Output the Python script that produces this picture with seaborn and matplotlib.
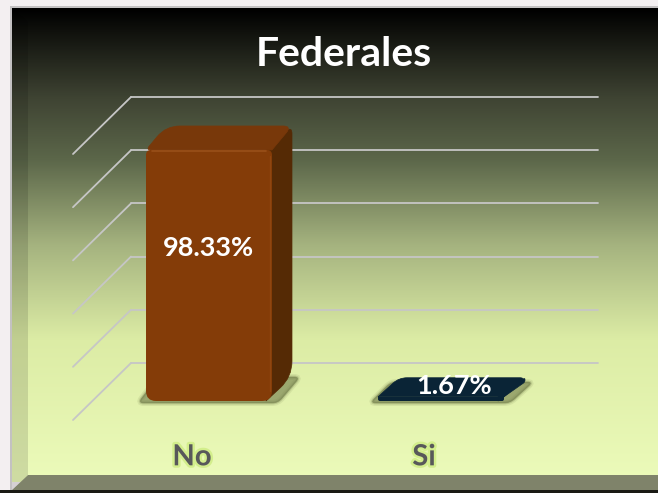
import matplotlib
matplotlib.use("Agg")
import matplotlib.pyplot as plt
import matplotlib.patheffects as pe
from matplotlib.colors import LinearSegmentedColormap
from matplotlib.patches import PathPatch, Polygon
from matplotlib.path import Path
from matplotlib.transforms import ScaledTranslation
import numpy as np
import seaborn as sns

# datos
categorias = ["No", "Si"]
valores = [98.33, 1.67]
titulo = "Federales"
marcas_y = [0, 20, 40, 60, 80, 100]

# colores por barra
frente = ["#843c08", "#0a2436"]
lado = ["#552a05", "#0a2436"]
tapa = ["#78380a", "#0a2436"]
brillo = ["#99501a", "#0a2436"]

# volumen de cada barra en pixeles
fondo_x = [20, 21]
fondo_y = [24, 19]
radios_lado = [[0, 0, 8, 22], [0, 0, 4, 8]]
radios_tapa = [[5, 0, 9, 14], [0, 0, 5, 8]]
radios_frente = [[10, 10, 5, 5], [4, 4, 0, 0]]

W, H = 658, 493
PX = 72 / 100  # puntos por pixel
PX_X = 1 / 232
PX_Y = 1 / 2.553


def caja(x0, y_sup, x1, y_inf):
    # rectangulo en pixeles (origen arriba) -> fracciones de figura
    return [x0 / W, 1 - y_inf / H, (x1 - x0) / W, (y_inf - y_sup) / H]


def redondeado(puntos, radios):
    # poligono con esquinas curvas, los radios van en pixeles
    p = np.array(puntos, dtype=float) / [PX_X, PX_Y]
    n = len(p)
    verts, codes = [], []
    for k in range(n):
        a, b, c = p[k - 1], p[k], p[(k + 1) % n]
        la, lc = np.linalg.norm(a - b), np.linalg.norm(c - b)
        r = min(radios[k], la * 0.45, lc * 0.45)
        ini = b + (a - b) / la * r
        fin = b + (c - b) / lc * r
        verts += [ini, b, fin]
        codes += [Path.MOVETO if k == 0 else Path.LINETO, Path.CURVE3, Path.CURVE3]
    verts.append(verts[0])
    codes.append(Path.CLOSEPOLY)
    return Path(np.array(verts) * [PX_X, PX_Y], codes)


sns.set_theme(style="white")
plt.rcParams["font.family"] = ["Lato", "DejaVu Sans"]

fig = plt.figure(figsize=(W / 100, H / 100), dpi=100, facecolor="#f3eff1")

# =========================
# fondo
# =========================
fondo = fig.add_axes([0, 0, 1, 1])
fondo.axis("off")

cmap = LinearSegmentedColormap.from_list("panel", [
    (0.0, "#000000"), (0.19, "#3f4433"), (0.32, "#5c674a"),
    (0.50, "#a5b37f"), (0.70, "#dceca5"), (1.0, "#ecfbba"),
])
grad = np.linspace(0, 1, 256).reshape(-1, 1)
fondo.imshow(grad, cmap=cmap, extent=(12, W, 482, 8), aspect="auto")
fondo.set_xlim(0, W)
fondo.set_ylim(H, 0)
fondo.add_patch(Polygon([(10, 6), (W, 6), (W, 8), (12, 8), (12, 490), (10, 490)], fc="#8a8a8a", lw=0, alpha=0.45))
fondo.add_patch(Polygon([(12, 8), (28, 22), (28, 475), (12, 490)], fc="black", alpha=0.12, lw=0))
fondo.add_patch(Polygon([(12, 490), (28, 475), (W, 475), (W, 490)], fc="#7f836a", lw=0))
fondo.add_patch(Polygon([(0, 490), (W, 490), (W, H), (0, H)], fc="#1a1a14", lw=0))

# =========================
# pared con las lineas
# =========================
pared = fig.add_axes(caja(131, 97, 598, 363), facecolor="none")
pared.set_ylim(0, 100)
pared.set_xlim(0, 1)
pared.set_xticks([])
pared.set_yticks(marcas_y)
pared.tick_params(left=False, labelleft=False)
pared.grid(axis="y", color="#c6c6c6", lw=1.3, clip_on=False)
sns.despine(ax=pared, left=True, bottom=True)
paso_x = -58 / 467
paso_y = -57 / 2.66
for m in marcas_y:
    pared.plot([0, paso_x], [m, m + paso_y], color="#c6c6c6", lw=1.3, clip_on=False)

# =========================
# barras
# =========================
ax = fig.add_axes(caja(93, 401 - 255.3, 557, 401), facecolor="none")
sns.barplot(x=categorias, y=valores, hue=categorias, palette=frente, width=0.543,
            saturation=1, legend=False, ax=ax, zorder=4)
ax.set_xlim(-0.5, 1.5)
ax.set_ylim(0, 100)
ax.set_yticks([])
ax.set_xlabel("")
ax.set_ylabel("")
sns.despine(ax=ax, left=True, bottom=True)

for i, rect in enumerate(ax.patches):
    x0, x1 = rect.get_x(), rect.get_x() + rect.get_width()
    alto = rect.get_height()
    dx = fondo_x[i] * PX_X
    dy = fondo_y[i] * PX_Y

    # sombra sobre el piso
    sombra = redondeado([(x0 - 8 * PX_X, -2 * PX_Y), (x1 + 6 * PX_X, -2 * PX_Y),
                         (x1 + dx + 8 * PX_X, dy), (x0 + dx - 8 * PX_X, dy)],
                        [6, 6, 6, 6])
    for grosor, a in [(6, 0.12), (3, 0.25), (1, 0.4)]:
        ax.add_patch(PathPatch(sombra, fc="#6f7a48", ec="#6f7a48", alpha=a, lw=grosor * PX,
                               clip_on=False, zorder=1))

    ax.add_patch(PathPatch(
        redondeado([(x1 - 6 * PX_X, 0), (x1 - 6 * PX_X, alto), (x1 + dx, alto + dy), (x1 + dx, dy)],
                   radios_lado[i]),
        fc=lado[i], ec=lado[i], lw=0.5, clip_on=False, zorder=2))
    ax.add_patch(PathPatch(
        redondeado([(x0, alto), (x1, alto), (x1 + dx, alto + dy), (x0 + dx, alto + dy)],
                   radios_tapa[i]),
        fc=tapa[i], ec=tapa[i], lw=0.5, clip_on=False, zorder=3))

    # la barra de seaborn queda recortada con las esquinas curvas
    molde = PathPatch(
        redondeado([(x0, 0), (x1, 0), (x1, alto), (x0, alto)], radios_frente[i]),
        fc="none", ec="none", transform=ax.transData)
    ax.add_patch(molde)
    rect.set_linewidth(0)
    rect.set_clip_path(molde)

    if alto > 10:
        ax.plot([x0 + 6 * PX_X, x1 - 6 * PX_X], [alto - 1.5 * PX_Y] * 2, color=brillo[i], lw=1.2,
                clip_on=False, zorder=5)
        ax.plot([x1 - 2 * PX_X] * 2, [10 * PX_Y, alto - 6 * PX_Y], color=brillo[i], lw=1.0, alpha=0.5,
                clip_on=False, zorder=5)

# etiquetas de valor
corrimientos = [(-1, 27), (13, 13)]
for i, v in enumerate(valores):
    ox, oy = corrimientos[i]
    ax.annotate(f"{v:.2f}%", (i, v / 2), xytext=(ox * PX, oy * PX), textcoords="offset points",
                ha="center", va="center", color="white", fontsize=19.5, fontweight="bold",
                annotation_clip=False, zorder=6)

# categorias
ax.set_xticks([0, 1], categorias)
ax.tick_params(axis="x", bottom=False, pad=35 * PX, labelsize=21, labelcolor="#58585a")
desplaza = ScaledTranslation(-17 / 100, 0, fig.dpi_scale_trans)
for lab in ax.get_xticklabels():
    lab.set_fontweight("bold")
    lab.set_transform(lab.get_transform() + desplaza)
    lab.set_path_effects([pe.withStroke(linewidth=3.5, foreground="#d3ee8c")])

fig.text(344 / W, 1 - 55 / H, titulo, ha="center", va="center", color="white",
         fontsize=29.5, fontweight="bold")

fig.savefig("out.png", dpi=100, facecolor=fig.get_facecolor())
